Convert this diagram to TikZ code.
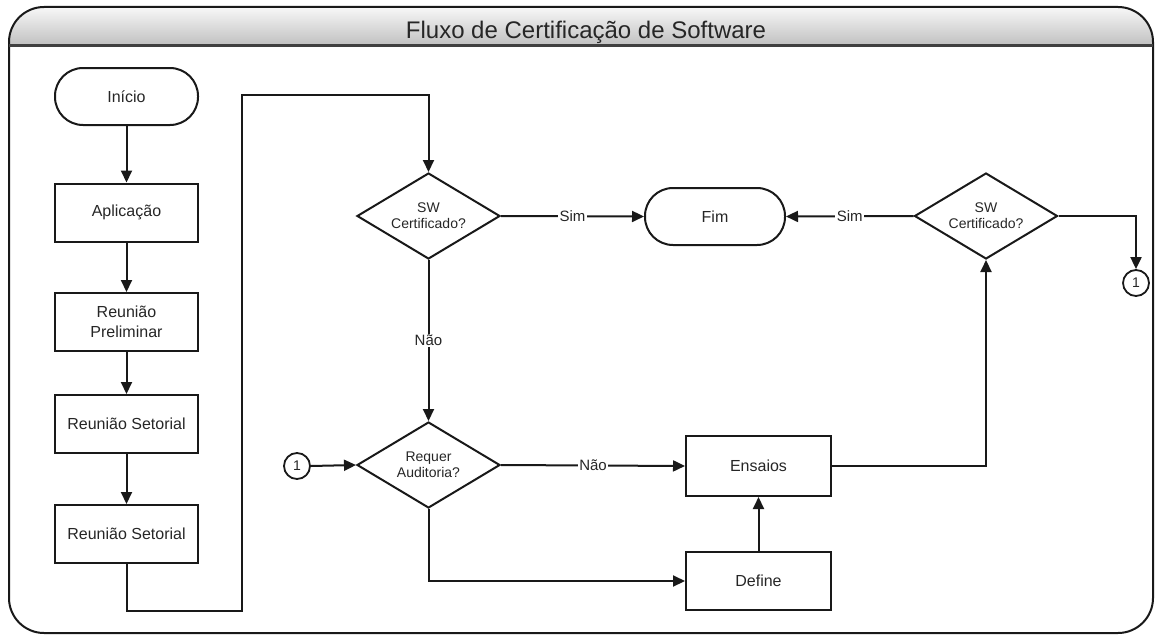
\documentclass[tikz,border=0pt]{standalone}
\usepackage{fontspec}
\setmainfont{Liberation Sans}
\usetikzlibrary{shapes.geometric,arrows.meta}
\begin{document}
\begin{tikzpicture}[x=1pt,y=-1pt,
  box/.style={draw=black!90, line width=2pt, minimum width=143pt, minimum height=58pt, inner sep=0pt,
    font=\fontsize{16}{20}\selectfont, align=center, text=black!85},
  term/.style={box, rounded corners=28pt, minimum height=57pt},
  dec/.style={diamond, draw=black!90, line width=2pt, aspect=1.66, minimum width=143pt, minimum height=86pt,
    inner sep=0pt, font=\fontsize{14}{16}\selectfont, align=center, text=black!85},
  conn/.style={circle, draw=black!90, line width=1.8pt, minimum size=26pt, inner sep=0pt,
    font=\fontsize{14}{16}\selectfont, text=black!85},
  arr/.style={draw=black!90, line width=2pt, -{Triangle[length=12pt,width=11pt]}},
  lbl/.style={fill=white, inner sep=1.5pt, font=\fontsize{15}{18}\selectfont, text=black!85}]
\useasboundingbox (0,0) rectangle (1158,634);
% frame and title bar
\begin{scope}
  \clip[rounded corners=35pt] (9,7) rectangle (1153,633);
  \shade[top color=gray!6, bottom color=gray!50] (9,7) rectangle (1153,46);
\end{scope}
\draw[black!90, line width=2pt, rounded corners=35pt] (9,7) rectangle (1153,633);
\draw[black!75, line width=3pt] (9,46) -- (1153,46);
\node[anchor=base, font=\fontsize{24}{28}\selectfont, text=black!85] (title) at (586,38) {Fluxo de Certificação de Software};

% nodes
\node[term] (ini) at (126.5,96.5) {Início};
\node[box] (apl) at (126.5,212.5) {Aplicação};
\node[box] (rp) at (126.5,322) {Reunião\\Preliminar};
\node[box] (rs1) at (126.5,424) {Reunião Setorial};
\node[box] (rs2) at (126.5,534) {Reunião Setorial};
\node[dec] (d1) at (428.5,216) {SW\\Certificado?};
\node[term, minimum width=140pt] (fim) at (715,216.5) {Fim};
\node[dec] (d2) at (986,216) {SW\\Certificado?};
\node[conn] (c1r) at (1136,283) {1};
\node[dec] (req) at (428.5,465) {Requer\\Auditoria?};
\node[conn] (c1l) at (297,466) {1};
\node[box, minimum width=145pt, minimum height=60pt] (ens) at (758.5,466) {Ensaios};
\node[box, minimum width=145pt] (def) at (758.5,581) {Define};
\coordinate (k1) at (242,95);

% connectors
\draw[arr] (ini.south) -- (apl.north);
\draw[arr] (apl.south) -- (rp.north);
\draw[arr] (rp.south) -- (rs1.north);
\draw[arr] (rs1.south) -- (rs2.north);
\draw[arr] (rs2.south) -- ++(0,47) -| (k1) -| (d1.north);
\draw[arr] (d1.east) -- node[lbl] {Sim} (fim.west);
\draw[arr] (d2.west) -- node[lbl] {Sim} (fim.east);
\draw[arr] (d2.east) -| (c1r.north);
\draw[arr] (d1.south) -- node[lbl] {Não} (req.north);
\draw[arr] (c1l.east) -- (req.west);
\draw[arr] (req.east) -- node[lbl] {Não} (ens.west);
\draw[arr] (req.south) |- (def.west);
\draw[arr] (def.north) -- (ens.south);
\draw[arr] (ens.east) -| (d2.south);
\end{tikzpicture}
\end{document}
